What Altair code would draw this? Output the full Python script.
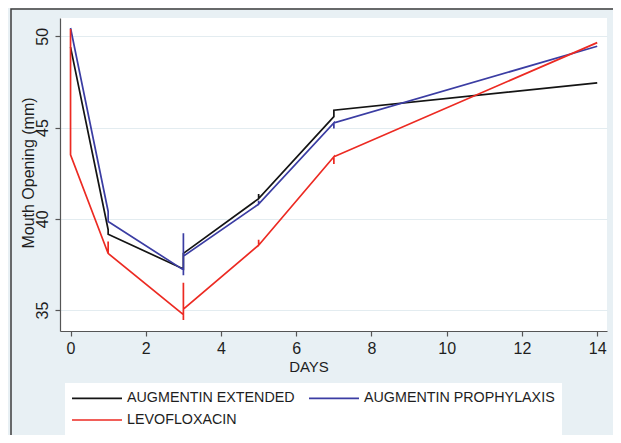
import altair as alt
import pandas as pd

# ---- data ----
series_names = ["AUGMENTIN EXTENDED", "AUGMENTIN PROPHYLAXIS", "LEVOFLOXACIN"]
series_colors = ["#141414", "#3b3da3", "#ec2a22"]

ext_days = [0, 1, 1, 3, 3, 5, 5, 5, 7, 7, 14]
ext_vals = [49.4, 39.4, 39.15, 37.25, 38.1, 41.1, 41.35, 41.1, 45.6, 45.95, 47.45]

pro_days = [0, 1, 1, 3, 3, 3, 3, 5, 5, 5, 7, 7, 7, 14]
pro_vals = [50.45, 40.4, 39.85, 37.2, 36.9, 39.2, 37.95, 40.8, 40.98, 40.8, 45.25, 44.95, 45.25, 49.45]

levo_days = [0, 0, 1, 1, 1, 3, 3, 3, 3, 5, 5, 5, 7, 7, 7, 14]
levo_vals = [50.4, 43.5, 38.1, 38.75, 38.1, 34.75, 34.45, 36.5, 35.05, 38.55, 38.85, 38.55, 43.4, 43.0, 43.4, 49.65]

x_ticks = [0, 2, 4, 6, 8, 10, 12, 14]
y_ticks = [35, 40, 45, 50]

rows = []
for name, days, vals in [
    (series_names[0], ext_days, ext_vals),
    (series_names[1], pro_days, pro_vals),
    (series_names[2], levo_days, levo_vals),
]:
    for i, (d, v) in enumerate(zip(days, vals)):
        rows.append({"series": name, "day": d, "value": v, "seq": i})
df = pd.DataFrame(rows)

FONT = "Liberation Sans"
TXT = "#1e1e1e"
AX = "#555555"

frame = alt.Chart(pd.DataFrame({"a": [0]})).mark_rect(
    filled=False, stroke="#3c3c3c", strokeWidth=1.5
).encode(
    x=alt.value(-49), x2=alt.value(640), y=alt.value(-9), y2=alt.value(500)
)

lines = alt.Chart(df).mark_line(strokeWidth=1.7).encode(
    x=alt.X(
        "day:Q",
        scale=alt.Scale(domain=[-0.28, 14.26], nice=False, zero=False),
        axis=alt.Axis(
            values=x_ticks, title="DAYS", grid=False,
            labelFontSize=16, labelPadding=4,
            titleFontSize=15, titleX=248.5, titleY=35, titleAlign="center",
            titleBaseline="middle",
        ),
    ),
    y=alt.Y(
        "value:Q",
        scale=alt.Scale(domain=[33.85, 51.0], nice=False, zero=False),
        axis=alt.Axis(
            values=y_ticks, title="Mouth Opening (mm)", grid=True,
            gridColor="#e3ecf0", gridWidth=1,
            labelFontSize=16, labelAngle=270, labelAlign="center",
            labelBaseline="alphabetic", labelPadding=8,
            titleFontSize=16, titleAngle=270, titleX=-27, titleY=154.5,
            titleAlign="center", titleBaseline="alphabetic",
        ),
    ),
    color=alt.Color(
        "series:N",
        scale=alt.Scale(domain=series_names, range=series_colors),
        legend=alt.Legend(
            title=None, orient="none", legendX=5, legendY=365,
            direction="horizontal", columns=2, columnPadding=10, rowPadding=6,
            symbolType="M-3.57,0H3.57", symbolSize=196, symbolStrokeWidth=1.7,
            symbolOffset=17, labelOffset=22,
            labelFontSize=14.3, labelFont=FONT, labelColor=TXT,
            fillColor="white", padding=7, labelLimit=400,
        ),
    ),
    order="seq:Q",
)

chart = alt.layer(frame, lines).properties(
    width=547, height=313,
    autosize=alt.AutoSizeParams(type="none"),
    padding={"left": 52, "top": 10, "right": 6, "bottom": 104},
    background="#e8f0f4",
).configure_view(
    fill="white", stroke=None
).configure_axis(
    domainColor=AX, tickColor=AX, tickSize=5, domainWidth=1.2, tickWidth=1.2,
    labelFont=FONT, titleFont=FONT, labelColor=TXT, titleColor=TXT,
    titleFontWeight="normal",
)

chart.save("out.html", embed_options={"renderer": "svg", "actions": False})
